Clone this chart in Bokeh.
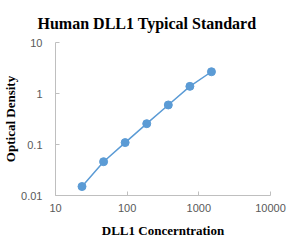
from bokeh.plotting import figure
from bokeh.models import FixedTicker, Title
from bokeh.embed import file_html
from bokeh.resources import INLINE

concentration = [23.44, 46.88, 93.75, 187.5, 375, 750, 1500]
od = [0.015, 0.046, 0.109, 0.256, 0.596, 1.38, 2.67]
x_ticks = [10, 100, 1000, 10000]
y_ticks = [0.01, 0.1, 1, 10]
x_labels = {10: "10", 100: "100", 1000: "1000", 10000: "10000"}
y_labels = {0.01: "0.01", 0.1: "0.1", 1: "1", 10: "10"}

p = figure(width=288, height=247, x_axis_type="log", y_axis_type="log",
           x_range=(10, 10000), y_range=(0.01, 10),
           output_backend="svg", toolbar_location=None,
           min_border_left=0, min_border_right=18, min_border_top=42, min_border_bottom=52)

t = Title(text="Human DLL1 Typical Standard", align="left",
          text_font="Liberation Serif", text_font_style="bold",
          text_font_size="16px", text_color="black", offset=-18, standoff=22)
p.add_layout(t, "above")

p.line(concentration, od, line_color="#5b9bd5", line_width=1.5)
p.scatter(concentration, od, size=8, fill_color="#5b9bd5", line_color="#5b9bd5")

p.xgrid.visible = False
p.ygrid.visible = False
p.outline_line_color = None

for ax, ticks, labels in ((p.xaxis[0], x_ticks, x_labels), (p.yaxis[0], y_ticks, y_labels)):
    ax.ticker = FixedTicker(ticks=ticks, num_minor_ticks=10)
    ax.major_label_overrides = {k: v for k, v in labels.items()}
    ax.axis_line_color = "#bfbfbf"
    ax.major_tick_line_color = "#bfbfbf"
    ax.minor_tick_line_color = "#bfbfbf"
    ax.major_tick_in = 4
    ax.major_tick_out = 0
    ax.minor_tick_in = 3
    ax.minor_tick_out = 0
    ax.major_label_text_font = "Liberation Sans"
    ax.major_label_text_font_size = "11px"
    ax.major_label_text_color = "#595959"
    ax.axis_label_text_font = "Liberation Serif"
    ax.axis_label_text_font_style = "bold"
    ax.axis_label_text_font_size = "13px"
    ax.axis_label_text_color = "black"

p.xaxis.axis_label = "DLL1 Concerntration"
p.yaxis.axis_label = "Optical Density"
p.xaxis.major_label_standoff = 8
p.yaxis.major_label_standoff = 13
p.xaxis.axis_label_standoff = 8
p.yaxis.axis_label_standoff = 0

open("out.html", "w").write(file_html(p, INLINE))
